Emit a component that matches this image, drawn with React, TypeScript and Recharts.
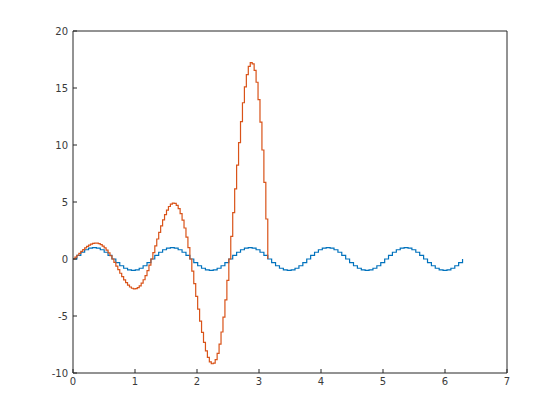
import { LineChart, Line, XAxis, YAxis } from 'recharts';

// blue samples (0 .. 2*pi)
const blueXs = [
    0, 0.063, 0.126, 0.188, 0.251, 0.314, 0.377, 0.44, 0.503, 0.565,
    0.628, 0.691, 0.754, 0.817, 0.88, 0.942, 1.005, 1.068, 1.131, 1.194,
    1.257, 1.319, 1.382, 1.445, 1.508, 1.571, 1.634, 1.696, 1.759, 1.822,
    1.885, 1.948, 2.011, 2.073, 2.136, 2.199, 2.262, 2.325, 2.388, 2.45,
    2.513, 2.576, 2.639, 2.702, 2.765, 2.827, 2.89, 2.953, 3.016, 3.079,
    3.142, 3.204, 3.267, 3.33, 3.393, 3.456, 3.519, 3.581, 3.644, 3.707,
    3.77, 3.833, 3.896, 3.958, 4.021, 4.084, 4.147, 4.21, 4.273, 4.335,
    4.398, 4.461, 4.524, 4.587, 4.65, 4.712, 4.775, 4.838, 4.901, 4.964,
    5.027, 5.089, 5.152, 5.215, 5.278, 5.341, 5.404, 5.466, 5.529, 5.592,
    5.655, 5.718, 5.781, 5.843, 5.906, 5.969, 6.032, 6.095, 6.158, 6.22,
    6.283,
];

const blueValues = [
    0, 0.31, 0.59, 0.81, 0.95, 1, 0.95, 0.81, 0.59, 0.31,
    0, -0.31, -0.59, -0.81, -0.95, -1, -0.95, -0.81, -0.59, -0.31,
    0, 0.31, 0.59, 0.81, 0.95, 1, 0.95, 0.81, 0.59, 0.31,
    0, -0.31, -0.59, -0.81, -0.95, -1, -0.95, -0.81, -0.59, -0.31,
    0, 0.31, 0.59, 0.81, 0.95, 1, 0.95, 0.81, 0.59, 0.31,
    0, -0.31, -0.59, -0.81, -0.95, -1, -0.95, -0.81, -0.59, -0.31,
    0, 0.31, 0.59, 0.81, 0.95, 1, 0.95, 0.81, 0.59, 0.31,
    0, -0.31, -0.59, -0.81, -0.95, -1, -0.95, -0.81, -0.59, -0.31,
    0, 0.31, 0.59, 0.81, 0.95, 1, 0.95, 0.81, 0.59, 0.31,
    0, -0.31, -0.59, -0.81, -0.95, -1, -0.95, -0.81, -0.59, -0.31,
    0,
];

// red samples (0 .. pi), twice as fine
const redXs = [
    0, 0.0314, 0.0628, 0.0942, 0.1257, 0.1571, 0.1885, 0.2199, 0.2513, 0.2827,
    0.3142, 0.3456, 0.377, 0.4084, 0.4398, 0.4712, 0.5027, 0.5341, 0.5655, 0.5969,
    0.6283, 0.6597, 0.6912, 0.7226, 0.754, 0.7854, 0.8168, 0.8482, 0.8796, 0.9111,
    0.9425, 0.9739, 1.0053, 1.0367, 1.0681, 1.0996, 1.131, 1.1624, 1.1938, 1.2252,
    1.2566, 1.2881, 1.3195, 1.3509, 1.3823, 1.4137, 1.4451, 1.4765, 1.508, 1.5394,
    1.5708, 1.6022, 1.6336, 1.665, 1.6965, 1.7279, 1.7593, 1.7907, 1.8221, 1.8535,
    1.885, 1.9164, 1.9478, 1.9792, 2.0106, 2.042, 2.0735, 2.1049, 2.1363, 2.1677,
    2.1991, 2.2305, 2.2619, 2.2934, 2.3248, 2.3562, 2.3876, 2.419, 2.4504, 2.4819,
    2.5133, 2.5447, 2.5761, 2.6075, 2.6389, 2.6704, 2.7018, 2.7332, 2.7646, 2.796,
    2.8274, 2.8588, 2.8903, 2.9217, 2.9531, 2.9845, 3.0159, 3.0473, 3.0788, 3.1102,
    3.1416,
];

const redValues = [
    0, 0.161, 0.329, 0.499, 0.667, 0.827, 0.977, 1.11, 1.223, 1.31,
    1.369, 1.395, 1.387, 1.34, 1.256, 1.133, 0.972, 0.774, 0.544, 0.284,
    0, -0.303, -0.617, -0.935, -1.25, -1.551, -1.831, -2.081, -2.292, -2.456,
    -2.566, -2.616, -2.599, -2.513, -2.354, -2.123, -1.822, -1.452, -1.02, -0.533,
    0, 0.567, 1.156, 1.753, 2.343, 2.907, 3.432, 3.901, 4.296, 4.604,
    4.811, 4.903, 4.872, 4.71, 4.413, 3.98, 3.415, 2.721, 1.911, 0.998,
    0, -1.063, -2.167, -3.286, -4.391, -5.449, -6.433, -7.312, -8.053, -8.631,
    -9.017, -9.19, -9.131, -8.828, -8.271, -7.46, -6.402, -5.1, -3.582, -1.871,
    0, 1.993, 4.062, 6.158, 8.231, 10.214, 12.059, 13.705, 15.095, 16.177,
    16.902, 17.227, 17.116, 16.548, 15.504, 13.984, 12.0, 9.561, 6.715, 3.508,
    0,
];

const xTicks = [0, 1, 2, 3, 4, 5, 6, 7];
const yTicks = [-10, -5, 0, 5, 10, 15, 20];

const blueData = blueXs.map((x, i) => ({ x, y: blueValues[i] }));
const redData = redXs.map((x, i) => ({ x, y: redValues[i] }));

const axisColor = '#262626';
const tickFont = { fontSize: 10, fill: '#3a3a3a', fontFamily: 'DejaVu Sans' };

export default function App() {
    return (
        <div style={{ position: 'fixed', left: 0, top: 0, background: '#fff' }}>
            <LineChart
                width={560}
                height={420}
                margin={{ top: 30, right: 52, left: 0, bottom: 0 }}
            >
                <XAxis
                    xAxisId="b"
                    type="number"
                    dataKey="x"
                    domain={[0, 7]}
                    ticks={xTicks}
                    height={47}
                    tick={tickFont}
                    tickSize={-4}
                    tickMargin={9}
                    stroke={axisColor}
                    allowDataOverflow
                />
                {/* top and right edges of the box, no ticks */}
                <XAxis
                    xAxisId="t"
                    orientation="top"
                    type="number"
                    dataKey="x"
                    domain={[0, 7]}
                    ticks={xTicks}
                    height={1}
                    tick={false}
                    tickLine={false}
                    stroke={axisColor}
                />
                <YAxis
                    yAxisId="l"
                    type="number"
                    domain={[-10, 20]}
                    ticks={yTicks}
                    width={73}
                    tick={tickFont}
                    tickSize={-4}
                    tickMargin={9}
                    stroke={axisColor}
                    allowDataOverflow
                />
                <YAxis
                    yAxisId="r"
                    orientation="right"
                    type="number"
                    domain={[-10, 20]}
                    ticks={yTicks}
                    width={1}
                    tick={false}
                    tickLine={false}
                    stroke={axisColor}
                />
                <Line
                    xAxisId="b"
                    yAxisId="l"
                    data={blueData}
                    dataKey="y"
                    type="stepAfter"
                    stroke="#0072BD"
                    strokeWidth={1.2}
                    dot={false}
                    isAnimationActive={false}
                />
                <Line
                    xAxisId="b"
                    yAxisId="l"
                    data={redData}
                    dataKey="y"
                    type="stepAfter"
                    stroke="#D95319"
                    strokeWidth={1.2}
                    dot={false}
                    isAnimationActive={false}
                />
                <Line
                    xAxisId="t"
                    yAxisId="r"
                    data={redData}
                    dataKey="y"
                    stroke="none"
                    dot={false}
                    legendType="none"
                    isAnimationActive={false}
                />
            </LineChart>
        </div>
    );
}
